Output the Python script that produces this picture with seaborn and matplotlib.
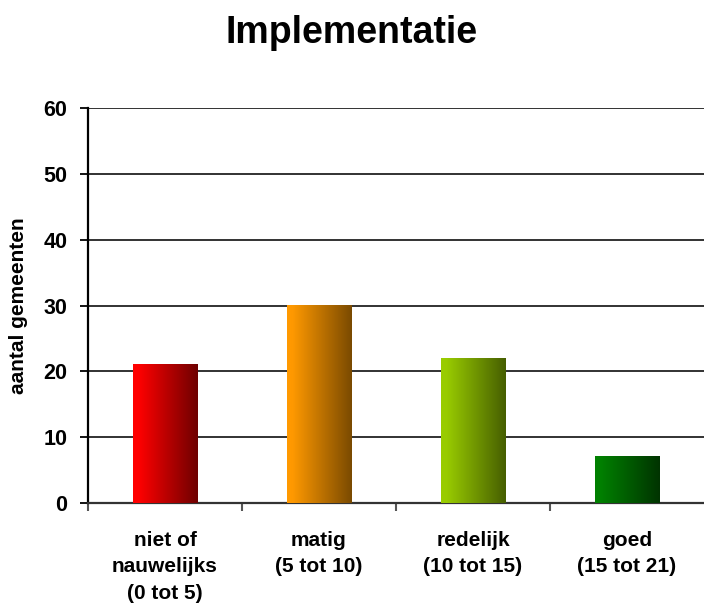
import numpy as np
import pandas as pd
import matplotlib
matplotlib.use("Agg")
import matplotlib.pyplot as plt
import seaborn as sns
from matplotlib.colors import to_rgb

categories = ["niet of\nnauwelijks\n(0 tot 5)", "matig\n(5 tot 10)", "redelijk\n(10 tot 15)", "goed\n(15 tot 21)"]
values = [21, 30, 22, 7]
light_colors = ["#FF0000", "#FF9900", "#99CC00", "#008000"]
dark_colors = ["#6E0000", "#7A4A00", "#465E00", "#003300"]
title = "Implementatie"
ylabel = "aantal gemeenten"
yticks = [0, 10, 20, 30, 40, 50, 60]

sns.set_theme(style="white")
plt.rcParams["font.family"] = ["Liberation Sans", "DejaVu Sans"]
plt.rcParams["text.color"] = "black"
plt.rcParams["xtick.color"] = "black"
plt.rcParams["ytick.color"] = "black"
plt.rcParams["axes.labelcolor"] = "black"

df = pd.DataFrame({"cat": categories, "val": values})

fig = plt.figure(figsize=(7.04, 6.10), dpi=100)
ax = fig.add_axes([88 / 704, 1 - 503 / 610, 616 / 704, 395 / 610])

sns.barplot(data=df, x="cat", y="val", hue="cat", palette=light_colors,
            width=0.42, legend=False, ax=ax, saturation=1, zorder=2)

# gradient fill for each bar
n = 256
t = np.linspace(0, 1, n)
t = np.clip((t - 0.08) / 0.92, 0, 1)
for p, lc, dc in zip(ax.patches, light_colors, dark_colors):
    x0, w, h = p.get_x(), p.get_width(), p.get_height()
    c0, c1 = np.array(to_rgb(lc)), np.array(to_rgb(dc))
    grad = c0[None, :] * (1 - t[:, None]) + c1[None, :] * t[:, None]
    img = grad[None, :, :]
    ax.imshow(img, extent=[x0, x0 + w, 0, h], aspect="auto", zorder=3,
              interpolation="bilinear")
    p.set_visible(False)

ax.set_xlim(-0.5, 3.5)
ax.set_ylim(0, 60)
ax.set_yticks(yticks)
ax.set_yticklabels([str(v) for v in yticks], fontsize=15.5, fontweight="bold")
ax.yaxis.grid(True, color="#222222", linewidth=1.3, zorder=1)
ax.xaxis.grid(False)
ax.set_axisbelow(True)

ax.set_xticks(range(len(categories)))
ax.set_xticklabels(categories, fontsize=15, fontweight="bold", linespacing=1.5)
ax.set_xticks([-0.5, 0.5, 1.5, 2.5], minor=True)
ax.tick_params(axis="x", which="major", length=0, pad=20)
ax.tick_params(axis="x", which="minor", length=6, width=1.5, color="#555555", direction="out", bottom=True)
ax.tick_params(axis="y", which="major", length=6, width=1.3, color="black", direction="out", left=True, pad=9)

for s in ["top", "right"]:
    ax.spines[s].set_visible(False)
ax.spines["left"].set_color("black")
ax.spines["left"].set_linewidth(1.6)
ax.spines["bottom"].set_color("#333333")
ax.spines["bottom"].set_linewidth(1.6)

ax.set_xlabel("")
ax.set_ylabel(ylabel, fontsize=15, fontweight="bold")
ax.yaxis.set_label_coords(-0.097, 0.5)

fig.text(0.5, 1 - 33 / 610, title, ha="center", va="center", fontsize=27, fontweight="bold")

fig.savefig("out.png", dpi=100)
